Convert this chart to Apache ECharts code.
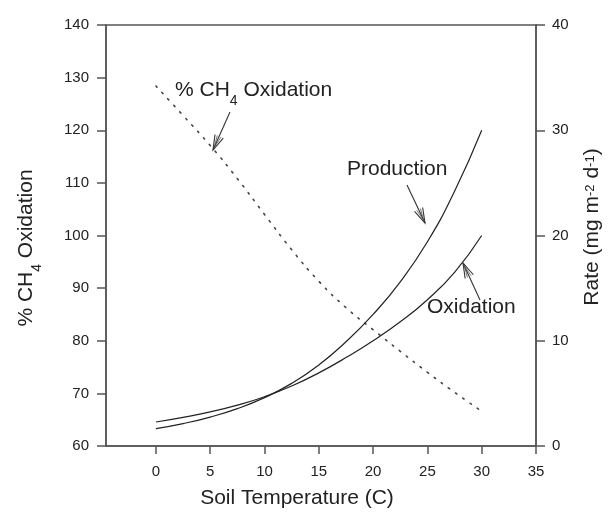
<!DOCTYPE html>
<html>
<head>
<meta charset="utf-8">
<script src="https://cdn.jsdelivr.net/npm/echarts@6/dist/echarts.min.js"></script>
<style>
  html, body { margin: 0; padding: 0; background: #fff; }
  #chart { width: 613px; height: 516px; }
</style>
</head>
<body>
<div id="chart"></div>
<script>
// soil temperature (C)
var temps = [0, 2.5, 5, 7.5, 10, 12.5, 15, 17.5, 20, 22.5, 25, 27.5, 30]
// rates, mg m-2 d-1 (right axis)
var production = [1.65, 2.13, 2.75, 3.55, 4.6, 5.95, 7.7, 9.9, 12.5, 15.6, 19.4, 24.2, 30.0]
var oxidation = [2.28, 2.72, 3.24, 3.88, 4.68, 5.7, 6.95, 8.4, 10.0, 11.8, 13.9, 16.5, 20.0]
// % CH4 oxidation (left axis)
var pctOxidation = [128.4, 122.8, 117.1, 110.8, 104.0, 97.3, 91.3, 86.3, 82.1, 78.0, 74.0, 70.2, 66.6]
var xTicks = [0, 5, 10, 15, 20, 25, 30, 35]

var ink = '#222'
var axisColor = '#555'
var font = 'Liberation Sans, Arial, sans-serif'

function pairs(ys) {
  return temps.map(function (t, i) { return [t, ys[i]] })
}

// rich styles for sub/superscripts
var rich = {
  a: { fontSize: 21, fontFamily: font, color: ink, lineHeight: 28, verticalAlign: 'top' },
  sub: { fontSize: 14, fontFamily: font, color: ink, lineHeight: 14, verticalAlign: 'bottom' },
  sup: { fontSize: 13, fontFamily: font, color: ink, lineHeight: 13, verticalAlign: 'top', padding: [2, 0, 0, 0] }
}

function label(text, x, y, opts) {
  opts = opts || {}
  return {
    type: 'text',
    x: x, y: y,
    rotation: opts.rotation || 0,
    style: {
      text: text,
      rich: rich,
      align: opts.align || 'left',
      verticalAlign: 'middle',
      fill: ink
    },
    z: 10
  }
}

// thin arrow with an open, narrow head
function arrow(x1, y1, x2, y2) {
  var ang = Math.atan2(y2 - y1, x2 - x1)
  var len = 15, half = 4.5
  var bx = x2 - len * Math.cos(ang), by = y2 - len * Math.sin(ang)
  var px = -Math.sin(ang) * half, py = Math.cos(ang) * half
  var lineStyle = { stroke: '#333', lineWidth: 1.1, fill: null }
  return [
    { type: 'line', shape: { x1: x1, y1: y1, x2: x2, y2: y2 }, style: lineStyle, z: 10 },
    { type: 'polyline', shape: { points: [[bx + px, by + py], [x2, y2], [bx - px, by - py]] }, style: lineStyle, z: 10 },
    { type: 'polyline', shape: { points: [[bx + px * 0.45, by + py * 0.45], [x2 - 3 * Math.cos(ang), y2 - 3 * Math.sin(ang)], [bx - px * 0.45, by - py * 0.45]] }, style: { stroke: '#555', lineWidth: 0.8, fill: null }, z: 10 }
  ]
}

var chart = echarts.init(document.getElementById('chart'))

var axisLine = { show: true, onZero: false, lineStyle: { color: axisColor, width: 1.5 } }
var tickLabel = { color: ink, fontSize: 15, fontFamily: font }

var option = {
  animation: false,
  backgroundColor: '#fff',
  grid: {
    left: 106, right: 77, top: 25, bottom: 70,
    show: true, borderColor: axisColor, borderWidth: 1.5
  },
  xAxis: {
    type: 'value',
    min: -4.6,
    max: 35,
    axisLine: axisLine,
    axisTick: { show: true, length: 8, customValues: xTicks, lineStyle: { color: axisColor, width: 1.5 } },
    axisLabel: Object.assign({ margin: 18, customValues: xTicks }, tickLabel),
    splitLine: { show: false }
  },
  yAxis: [
    {
      type: 'value',
      position: 'left',
      min: 60, max: 140, interval: 10,
      axisLine: axisLine,
      axisTick: { show: true, length: 9, lineStyle: { color: axisColor, width: 1.5 } },
      axisLabel: Object.assign({ margin: 17 }, tickLabel),
      splitLine: { show: false }
    },
    {
      type: 'value',
      position: 'right',
      min: 0, max: 40, interval: 10,
      axisLine: axisLine,
      axisTick: { show: true, length: 9, lineStyle: { color: axisColor, width: 1.5 } },
      axisLabel: Object.assign({ margin: 16 }, tickLabel),
      splitLine: { show: false }
    }
  ],
  series: [
    {
      name: '% CH4 Oxidation',
      type: 'line',
      yAxisIndex: 0,
      data: pairs(pctOxidation),
      smooth: true,
      showSymbol: false,
      lineStyle: { color: '#444', width: 1.6, type: [1.6, 7.2], cap: 'round' }
    },
    {
      name: 'Production',
      type: 'line',
      yAxisIndex: 1,
      data: pairs(production),
      smooth: true,
      showSymbol: false,
      lineStyle: { color: ink, width: 1.2 }
    },
    {
      name: 'Oxidation',
      type: 'line',
      yAxisIndex: 1,
      data: pairs(oxidation),
      smooth: true,
      showSymbol: false,
      lineStyle: { color: ink, width: 1.2 }
    }
  ],
  graphic: [
    // axis titles
    label('{a|% CH}{sub|4}{a| Oxidation}', 30, 248, { rotation: Math.PI / 2, align: 'center' }),
    label('{a|Rate (mg m}{sup|-2}{a| d}{sup|-1}{a|)}', 596, 227, { rotation: Math.PI / 2, align: 'center' }),
    label('{a|Soil Temperature (C)}', 297, 502, { align: 'center' }),
    // annotations
    label('{a|% CH}{sub|4}{a| Oxidation}', 175, 94),
    label('{a|Production}', 347, 173),
    label('{a|Oxidation}', 427, 311)
  ].concat(
    arrow(230, 112, 213, 150),
    arrow(407, 185, 425, 223),
    arrow(480, 300, 463, 263)
  )
}

chart.setOption(option)
</script>
</body>
</html>
